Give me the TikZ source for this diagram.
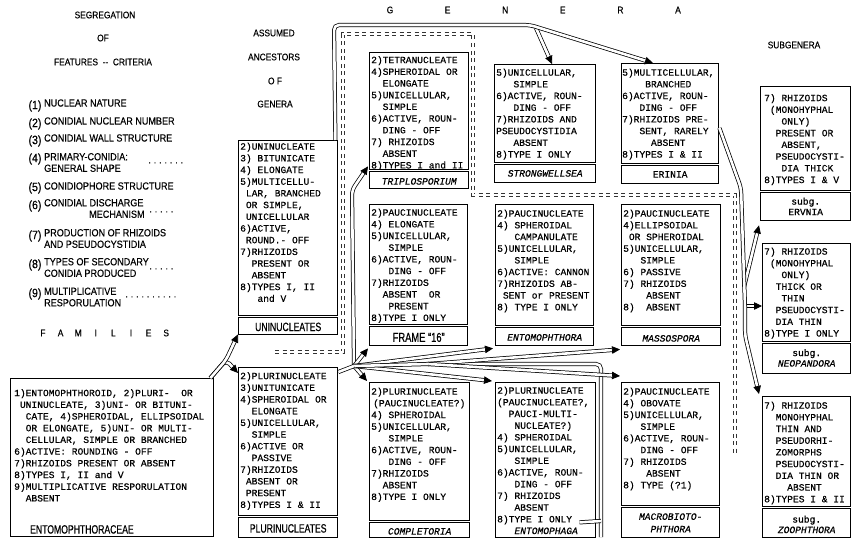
\documentclass[tikz,border=0pt]{standalone}
\usepackage{fontspec}
\setmainfont{Liberation Serif}
\newfontfamily\typefont[FakeBold=0.5]{Liberation Mono}
\newfontfamily\labelfont[FakeStretch=0.88, FakeBold=0.4]{Liberation Sans}
\newfontfamily\narrowfont[FakeStretch=0.72, FakeBold=0.5]{Liberation Sans}
\usetikzlibrary{arrows.meta, positioning, calc}

\begin{document}
\begin{tikzpicture}[
    x=1pt, y=-1pt,
    >={Triangle[length=8pt, width=7.5pt]},
    every node/.style={inner sep=0pt}
]

\tikzset{
    headtext/.style={font=\labelfont\fontsize{9.5}{11}\selectfont},
    crittext/.style={font=\labelfont\fontsize{10.3}{11.5}\selectfont, anchor=west, align=left},
    critnum/.style={font=\labelfont\fontsize{12}{12}\selectfont},
    dotrow/.style={font=\labelfont\fontsize{10}{10}\selectfont, anchor=west},
    genbox/.style={draw, line width=1.4pt, anchor=north west},
    boxtext/.style={font=\typefont\fontsize{9.6}{11.7}\selectfont, align=left, anchor=north west},
    genname/.style={font=\typefont\itshape\fontsize{9.6}{11.7}\selectfont},
    genup/.style={font=\typefont\fontsize{9.6}{11.7}\selectfont},
    subgname/.style={font=\typefont\fontsize{9.6}{10.5}\selectfont, align=center},
    grpname/.style={font=\narrowfont\fontsize{12}{12}\selectfont},
    sepline/.style={double, double distance=1.5pt, line width=0.5pt},
    dashframe/.style={draw=white, line width=1.4pt,
        preaction={draw=black!80, line width=3.2pt, dash pattern=on 4pt off 3.5pt}},
    link/.style={double, double distance=2.6pt, line width=0.75pt, rounded corners=5pt},
    linkarrow/.style={link, ->}
}

\useasboundingbox (0,0) rectangle (852,538);

% column headings
\node[headtext] (segr) at (105,15) {SEGREGATION};
\node[headtext] (segrof) at (103,38) {OF};
\node[headtext] (feat) at (103,62) {FEATURES \ -{}- \ CRITERIA};
\node[headtext] (assu) at (274,33) {ASSUMED};
\node[headtext] (ance) at (274,57) {ANCESTORS};
\node[headtext] (anceof) at (275,81) {O F};
\node[headtext] (ancegen) at (275,104) {GENERA};
\node[headtext] (subgen) at (794,45) {SUBGENERA};
\foreach \ch [count=\i] in {G,E,N,E,R,A}
    \node[headtext] (genletter\i) at ({390+57.6*(\i-1)},10) {\ch};
\foreach \ch [count=\i] in {F,A,M,I,L,I,E,S}
    \node[headtext] (famletter\i) at ({43+17.6*(\i-1)},333) {\ch};

% criteria list
\foreach \k/\yy in {1/106,2/124,3/141,4/159,5/188,6/206,7/236,8/265,9/294}
    \node[critnum] (crit\k) at (35,\yy) {(\k)};
\node[crittext] (critA) at (44,103) {NUCLEAR NATURE};
\node[crittext] (critB) at (44,121) {CONIDIAL NUCLEAR NUMBER};
\node[crittext] (critC) at (44,138) {CONIDIAL WALL STRUCTURE};
\node[crittext] (critD) at (44,162.5) {PRIMARY-CONIDIA:\\GENERAL SHAPE};
\node[crittext] (critE) at (44,186) {CONIDIOPHORE STRUCTURE};
\node[crittext] (critF) at (44,208.5) {CONIDIAL DISCHARGE\\\hspace*{45pt}MECHANISM};
\node[crittext] (critG) at (44,238.5) {PRODUCTION OF RHIZOIDS\\AND PSEUDOCYSTIDIA};
\node[crittext] (critH) at (44,267.5) {TYPES OF SECONDARY\\CONIDIA PRODUCED};
\node[crittext] (critI) at (44,297) {MULTIPLICATIVE\\RESPORULATION};
\node[dotrow] (dotsD) at (148,164) {· · · · · · ·};
\node[dotrow] (dotsF) at (149,213) {· · · · ·};
\node[dotrow] (dotsH) at (149,270) {· · · · ·};
\node[dotrow] (dotsI) at (125,298) {· · · · · · · · · ·};

% boundary between the two lines of descent
\draw[dashframe] (275,352) -- (343,352) -- (343,34) -- (473,34) -- (473,195) -- (735,195) -- (735,455);

% family
\node[genbox, minimum width=203pt, minimum height=158pt] (entfam) at (10,378) {};
\node[boxtext] (entfamtext) at ($(entfam.north west)+(4,11)$) {1)ENTOMOPHTHOROID, 2)PLURI-~~OR\\~UNINUCLEATE, 3)UNI- OR BITUNI-\\~~CATE, 4)SPHEROIDAL, ELLIPSOIDAL\\~~OR ELONGATE, 5)UNI- OR MULTI-\\~~CELLULAR, SIMPLE OR BRANCHED\\6)ACTIVE: ROUNDING - OFF\\7)RHIZOIDS PRESENT OR ABSENT\\8)TYPES I, II and V\\9)MULTIPLICATIVE RESPORULATION\\~~ABSENT};
\node[grpname, anchor=west] (entfamname) at ($(entfam.south west)+(20,-8)$) {ENTOMOPHTHORACEAE};

% assumed ancestors
\node[genbox, minimum width=99pt, minimum height=194pt] (unin) at (238,140) {};
\node[boxtext] (unintext) at ($(unin.north west)+(2,2.5)$) {2)UNINUCLEATE\\3) BITUNICATE\\4) ELONGATE\\5)MULTICELLU-\\~LAR, BRANCHED\\~OR SIMPLE,\\~UNICELLULAR\\6)ACTIVE,\\~ROUND.- OFF\\7)RHIZOIDS\\~~PRESENT OR\\~~ABSENT\\8)TYPES I, II\\~~~and V};
\draw[sepline] ($(unin.south west)+(0,-19)$) -- ($(unin.south east)+(0,-19)$);
\node[grpname] (uninname) at ($(unin.south)+(0,-8.5)$) {UNINUCLEATES};

\node[genbox, minimum width=99pt, minimum height=170pt] (plur) at (238,367) {};
\node[boxtext] (plurtext) at ($(plur.north west)+(2,5)$) {2)PLURINUCLEATE\\3)UNITUNICATE\\4)SPHEROIDAL OR\\~~ELONGATE\\5)UNICELLULAR,\\~~SIMPLE\\6)ACTIVE OR\\~~PASSIVE\\7)RHIZOIDS\\~ABSENT OR\\~PRESENT\\8)TYPES I \& II};
\draw[sepline] ($(plur.south west)+(0,-22)$) -- ($(plur.south east)+(0,-22)$);
\node[grpname] (plurname) at ($(plur.south)+(0,-10)$) {PLURINUCLEATES};

% genera, top row
\node[genbox, minimum width=99pt, minimum height=136pt] (trip) at (369,52) {};
\node[boxtext] (triptext) at ($(trip.north west)+(2,4)$) {2)TETRANUCLEATE\\4)SPHEROIDAL OR\\~~ELONGATE\\5)UNICELLULAR,\\~~SIMPLE\\6)ACTIVE, ROUN-\\~~DING - OFF\\7) RHIZOIDS\\~~ABSENT\\8)TYPES I and II};
\draw[sepline] ($(trip.south west)+(0,-19)$) -- ($(trip.south east)+(0,-19)$);
\node[genname] (tripname) at ($(trip.south)+(0,-8)$) {TRIPLOSPORIUM};

\node[genbox, minimum width=101pt, minimum height=118pt] (stro) at (494,64) {};
\node[boxtext] (strotext) at ($(stro.north west)+(2,4.5)$) {5)UNICELLULAR,\\~~~SIMPLE\\6)ACTIVE, ROUN-\\~~~DING - OFF\\7)RHIZOIDS AND\\PSEUDOCYSTIDIA\\~~~ABSENT\\8)TYPE I ONLY};
\draw[sepline] ($(stro.south west)+(0,-20)$) -- ($(stro.south east)+(0,-20)$);
\node[genname] (stroname) at ($(stro.south)+(0,-10)$) {STRONGWELLSEA};

\node[genbox, minimum width=97pt, minimum height=120pt] (erin) at (621,63) {};
\node[boxtext] (erintext) at ($(erin.north west)+(1,5.5)$) {5)MULTICELLULAR,\\~~~~BRANCHED\\6)ACTIVE, ROUN-\\~~~DING - OFF\\7)RHIZOIDS PRE-\\~~~SENT, RARELY\\~~~~~ABSENT\\8)TYPES I \& II};
\draw[sepline] ($(erin.south west)+(0,-20)$) -- ($(erin.south east)+(0,-20)$);
\node[genup] (erinname) at ($(erin.south)+(0,-10)$) {ERINIA};

% genera, middle row
\node[genbox, minimum width=98pt, minimum height=141pt] (fr16) at (369,204) {};
\node[boxtext] (fr16text) at ($(fr16.north west)+(2,4.5)$) {2)PAUCINUCLEATE\\4) ELONGATE\\5)UNICELLULAR,\\~~~SIMPLE\\6)ACTIVE, ROUN-\\~~~DING - OFF\\7)RHIZOIDS\\~~ABSENT~~OR\\~~~PRESENT\\8)TYPE I ONLY};
\draw[sepline] ($(fr16.south west)+(0,-21)$) -- ($(fr16.south east)+(0,-21)$);
\node[grpname, font=\narrowfont\fontsize{13}{13}\selectfont] (fr16name) at ($(fr16.south)+(0,-9)$) {FRAME “16”};

\node[genbox, minimum width=98pt, minimum height=141pt] (ento) at (495,204) {};
\node[boxtext] (entotext) at ($(ento.north west)+(2,5.5)$) {2)PAUCINUCLEATE\\4) SPHEROIDAL\\~~~CAMPANULATE\\5)UNICELLULAR,\\~~~SIMPLE\\6)ACTIVE: CANNON\\7)RHIZOIDS AB-\\~SENT or PRESENT\\8) TYPE I ONLY};
\draw[sepline] ($(ento.south west)+(0,-20)$) -- ($(ento.south east)+(0,-20)$);
\node[genname] (entoname) at ($(ento.south)+(0,-9)$) {ENTOMOPHTHORA};

\node[genbox, minimum width=99pt, minimum height=141pt] (mass) at (621,204) {};
\node[boxtext] (masstext) at ($(mass.north west)+(2,5.5)$) {2)PAUCINUCLEATE\\4)ELLIPSOIDAL\\~OR SPHEROIDAL\\5)UNICELLULAR,\\~~~SIMPLE\\6) PASSIVE\\7) RHIZOIDS\\~~~~ABSENT\\8)~~ABSENT};
\draw[sepline] ($(mass.south west)+(0,-20)$) -- ($(mass.south east)+(0,-20)$);
\node[genname] (massname) at ($(mass.south)+(0,-8)$) {MASSOSPORA};

% genera, bottom row
\node[genbox, minimum width=100pt, minimum height=155pt] (comp) at (369,382) {};
\node[boxtext] (comptext) at ($(comp.north west)+(2,5.5)$) {2)PLURINUCLEATE\\\hspace*{2pt}(PAUCINUCLEATE?)\\4) SPHEROIDAL\\5)UNICELLULAR,\\~~~SIMPLE\\6)ACTIVE, ROUN-\\~~~DING - OFF\\7)RHIZOIDS\\~~ABSENT\\8)TYPE I ONLY};
\draw[sepline] ($(comp.south west)+(0,-17)$) -- ($(comp.south east)+(0,-17)$);
\node[genname] (compname) at ($(comp.south)+(0,-7)$) {COMPLETORIA};

\node[genbox, minimum width=100pt, minimum height=155pt] (entg) at (495,382) {};
\node[boxtext] (entgtext) at ($(entg.north west)+(2,4.5)$) {2)PLURINUCLEATE\\(PAUCINUCLEATE?,\\~~PAUCI-MULTI-\\~~~NUCLEATE?)\\4) SPHEROIDAL\\5)UNICELLULAR,\\~~~SIMPLE\\6)ACTIVE, ROUN-\\~~~DING - OFF\\7) RHIZOIDS\\~~~ABSENT\\8)TYPE I ONLY\\~~~\textit{ENTOMOPHAGA}};

\node[genbox, minimum width=98pt, minimum height=155pt] (macr) at (621,382) {};
\node[boxtext] (macrtext) at ($(macr.north west)+(2,5.5)$) {2)PAUCINUCLEATE\\4) OBOVATE\\5)UNICELLULAR,\\~~~SIMPLE\\6)ACTIVE, ROUN-\\~~~DING - OFF\\7) RHIZOIDS\\~~~~ABSENT\\8) TYPE (?1)};
\draw[sepline] ($(macr.south west)+(0,-32)$) -- ($(macr.south east)+(0,-32)$);
\node[subgname, font=\typefont\itshape\fontsize{9.6}{12.5}\selectfont] (macrname) at ($(macr.south)+(0,-15.5)$) {MACROBIOTO-\\PHTHORA};

% subgenera
\node[genbox, minimum width=90pt, minimum height=134pt] (ervn) at (760,86) {};
\node[boxtext] (ervntext) at ($(ervn.north west)+(4,8)$) {7) RHIZOIDS\\~(MONOHYPHAL\\~~~ONLY)\\~~PRESENT OR\\~~~ABSENT,\\~~PSEUDOCYSTI-\\~~~DIA THICK\\8)TYPES I \& V};
\draw[sepline] ($(ervn.south west)+(0,-30)$) -- ($(ervn.south east)+(0,-30)$);
\node[subgname] (ervnname) at ($(ervn.south)+(0,-15)$) {subg.\\ERVNIA};

\node[genbox, minimum width=88pt, minimum height=130pt] (neop) at (762,243) {};
\node[boxtext] (neoptext) at ($(neop.north west)+(2,4.5)$) {7) RHIZOIDS\\~(MONOHYPHAL\\~~~ONLY)\\~~THICK OR\\~~~THIN\\~~PSEUDOCYSTI-\\~~DIA THIN\\8)TYPE I ONLY};
\draw[sepline] ($(neop.south west)+(0,-32)$) -- ($(neop.south east)+(0,-32)$);
\node[subgname] (neopname) at ($(neop.south)+(0,-16.5)$) {subg.\\\textit{NEOPANDORA}};

\node[genbox, minimum width=88pt, minimum height=141pt] (zoop) at (762,396) {};
\node[boxtext] (zooptext) at ($(zoop.north west)+(2,5.5)$) {7) RHIZOIDS\\~~MONOHYPHAL\\~~THIN AND\\~~PSEUDORHI-\\~~ZOMORPHS\\~~PSEUDOCYSTI-\\~~DIA THIN OR\\~~~~ABSENT\\8)TYPES I \& II};
\draw[sepline] ($(zoop.south west)+(0,-31)$) -- ($(zoop.south east)+(0,-31)$);
\node[subgname] (zoopname) at ($(zoop.south)+(0,-14)$) {subg.\\\textit{ZOOPHTHORA}};

% family to ancestors
\coordinate (famfork) at (226,360);
\draw[linkarrow] ($(entfam.north east)+(-4,0)$) -- (famfork) -- ($(plur.north west)+(0,6)$);
\draw[linkarrow] ($(entfam.north east)+(-4,0)$) -- (famfork) -- ($(unin.south west)+(0,-1)$);

% uninucleate line
\coordinate (unibend) at (334,25);
\coordinate (unifork) at (530,25);
\draw[linkarrow] ($(unifork)+(6,3)$) -- ($(stro.north west)+(58,0)$);
\draw[linkarrow] ($(unin.north east)+(-3,0)$) -- (unibend) -- (unifork) -- ($(erin.north west)+(32,0)$);

\coordinate (erinbend) at (741,188);
\coordinate (ervnfork) at (744,287);
\coordinate (subfork) at (745,306);
\coordinate (subbend) at (745,335);
\draw[linkarrow] (ervnfork) -- ($(ervn.south west)+(-1,4)$);
\draw[linkarrow] (subfork) -- (subfork -| neop.west);
\draw[linkarrow] ($(erin.north east)+(0,65)$) -- (erinbend) -- (subfork) -- (subbend) -- ($(zoop.north west)+(-3,-2)$);

% plurinucleate line
\coordinate (plurhub) at (354,366);
\coordinate (pluriup) at (352,190);
\coordinate (plurmid) at (428,364);
\coordinate (plurturn) at (601,364);
\coordinate (plurfoot) at (601,537);
\coordinate (entgstub) at (601,521);
\draw[linkarrow] (plurhub) -- (pluriup) -- ($(trip.south west)+(-1,-23)$);
\draw[linkarrow] (plurhub) -- ($(fr16.south west)+(-1,2)$);
\draw[linkarrow] (plurhub) -- ($(ento.south west)+(-2,2)$);
\draw[linkarrow] (plurhub) -- ($(comp.north west)+(-2,-1)$);
\draw[linkarrow] (plurhub) -- ($(entg.north west)+(-3,-1)$);
\draw[link] (plurmid) -- (plurturn) -- (plurfoot);
\draw[link] (entgstub) -- ($(entg.south east)+(-17,-16)$);
\draw[linkarrow] (plurmid) -- ($(mass.south west)+(-1,3)$);
\draw[linkarrow] (plurmid) -- ($(macr.north west)+(-1,-6)$);
\draw[link] (plurhub) -- (plurmid);
\draw[link] ($(plur.north east)+(0,5)$) -- (plurhub);

\end{tikzpicture}
\end{document}
